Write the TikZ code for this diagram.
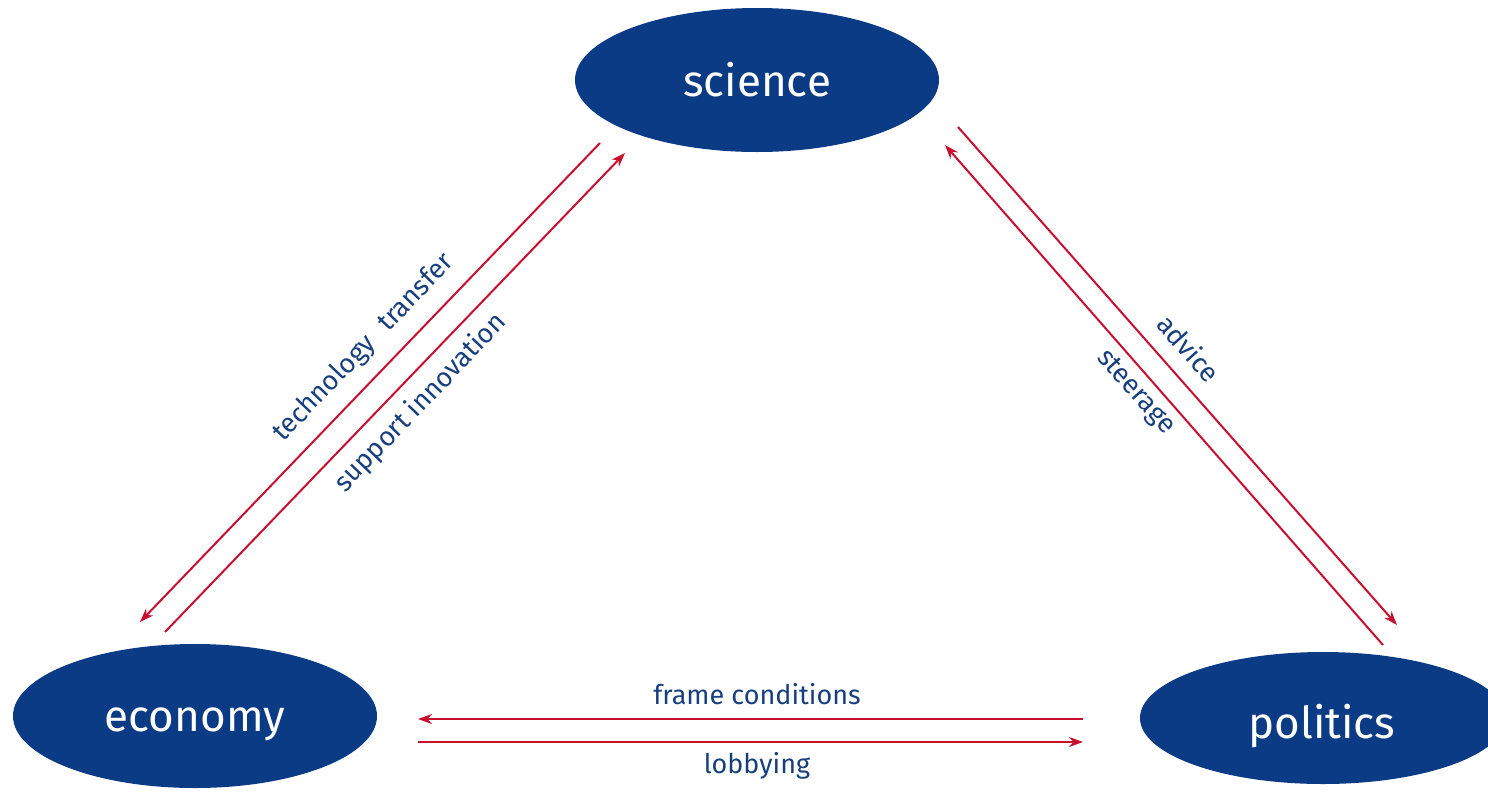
\documentclass[tikz,border=0pt]{standalone}
\usepackage{fontspec}
\setmainfont{Fira Sans}
\usetikzlibrary{shapes.geometric,arrows.meta}
\definecolor{nodeblue}{HTML}{0B3B85}
\definecolor{textblue}{HTML}{173F7E}
\definecolor{arrowred}{HTML}{C8102E}
\tikzset{
  sphere/.style={ellipse, fill=nodeblue, draw=none},
  nodetext/.style={text=white, font=\fontsize{44}{48}\selectfont},
  link/.style={draw=arrowred, line width=2pt, -{Stealth[length=14pt,width=10pt]}},
  lbl/.style={text=textblue, font=\fontsize{27}{30}\selectfont, inner sep=0pt}
}
\begin{document}
\begin{tikzpicture}[x=1pt,y=-1pt]
\useasboundingbox (0,0) rectangle (1488,793);
\begin{scope}
\clip (0,0) rectangle (1488,793);
\node[sphere, minimum width=364pt, minimum height=144pt] (science) at (757,80) {};
\node[sphere, minimum width=364pt, minimum height=144pt] (economy) at (195,716) {};
\node[sphere, minimum width=366pt, minimum height=132pt] (politics) at (1323,718) {};
\end{scope}
\node[nodetext] (tsci) at (science.center) {science};
\node[nodetext] (teco) at ([yshift=-8]economy.center) {economy};
\node[nodetext] (tpol) at ([xshift=-1,yshift=-8]politics.center) {politics};

\coordinate (tt1) at (600,143);
\coordinate (tt2) at (140,622);
\coordinate (si1) at (165,632);
\coordinate (si2) at (625,153);
\coordinate (ad1) at (958,127);
\coordinate (ad2) at (1397,625);
\coordinate (st1) at (1383,645);
\coordinate (st2) at (945,145);
\coordinate (fc1) at (1083,719);
\coordinate (fc2) at (418,719);
\coordinate (lb1) at (418,742);
\coordinate (lb2) at (1083,742);

\draw[link] (tt1) -- (tt2);
\draw[link] (si1) -- (si2);
\draw[link] (ad1) -- (ad2);
\draw[link] (st1) -- (st2);
\draw[link] (fc1) -- (fc2);
\draw[link] (lb1) -- (lb2);

\node[lbl, rotate=46.2] (ltt) at (364,348) {technology\hspace{0.35em} transfer};
\node[lbl, rotate=46.2] (lsi) at (421,403) {support innovation};
\node[lbl, rotate=-48.3] (lad) at (1189,348) {advice};
\node[lbl, rotate=-48.3] (lst) at (1135,393) {steerage};
\node[lbl] (lfc) at (757,694) {frame conditions};
\node[lbl] (llb) at (757,766) {lobbying};
\end{tikzpicture}
\end{document}
